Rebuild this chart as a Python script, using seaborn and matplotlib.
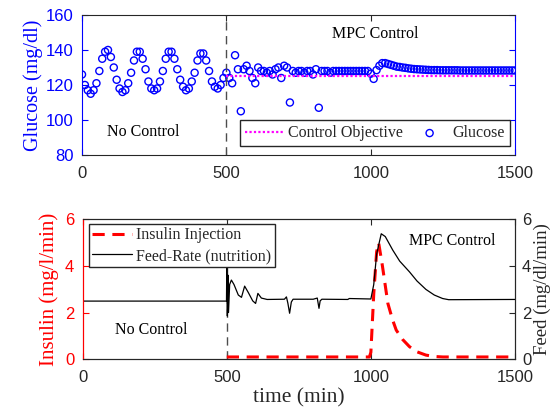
import numpy as np
import pandas as pd
import matplotlib
matplotlib.use('Agg')
import matplotlib.pyplot as plt
import seaborn as sns
from matplotlib.lines import Line2D

sns.set_style('ticks')
plt.rcParams['font.family'] = ['Liberation Sans', 'DejaVu Sans']

# glucose samples, every 10 min from 0 to 1500
time = np.arange(0, 1501, 10)
glucose_free = [126, 120, 117, 115, 117, 121, 128, 135, 139, 140,
                136, 130, 123, 118, 116, 117, 121, 127, 134, 139,
                139, 135, 129, 122, 118, 117, 118, 122, 128, 135,
                139, 139, 135, 129, 123, 119, 117, 118, 122, 127,
                134, 138, 138, 134, 128, 122, 119, 118, 120, 124]
glucose_mpc = [127, 124, 121, 137, 129, 105, 129, 131, 128, 124,
               121, 130, 128, 128, 127, 128, 126, 129, 130, 124,
               131, 130, 110, 128, 127, 128, 128, 127, 128, 128,
               126, 129, 107, 128, 128, 128, 127, 128, 128, 128,
               128, 128, 128, 128, 128, 128, 128, 128, 128, 128,
               126.5, 123.5, 128.5, 131, 132.5, 132.5, 132, 131.5, 131, 130.5,
               130.3, 130, 129.8, 129.5, 129.3, 129.1, 129, 128.9, 128.8, 128.7,
               128.6, 128.5, 128.5, 128.5, 128.4, 128.4, 128.4, 128.4, 128.4, 128.4,
               128.4, 128.3, 128.3, 128.3, 128.3, 128.3, 128.3, 128.3, 128.3, 128.3,
               128.3, 128.3, 128.3, 128.3, 128.3, 128.3, 128.3, 128.3, 128.3, 128.3,
               128.3]
glucose = glucose_free + glucose_mpc

target_t = [500, 1500]
target_v = [125, 125]

# insulin injection (mg/l/min)
ins_t = [500, 995, 1000, 1010, 1020, 1027, 1040, 1059, 1075, 1088, 1110,
         1134, 1160, 1191, 1220, 1250, 1500]
ins_v = [0.1, 0.1, 0.3, 2.8, 4.6, 4.98, 4.0, 2.39, 1.7, 1.25, 0.85,
         0.54, 0.32, 0.18, 0.12, 0.1, 0.1]

# feed rate (mg/dl/min)
feed_t = [0, 499, 500, 502, 504, 506, 510, 516, 525, 540, 551, 562, 575, 590,
          600, 608, 620, 640, 700, 707, 712, 718, 724, 730, 800, 814, 817, 820,
          824, 830, 920, 925, 1000, 1010, 1020, 1036, 1050, 1076, 1100, 1134,
          1160, 1191, 1220, 1249, 1270, 1500]
feed_v = [2.49, 2.49, 3.96, 1.85, 3.6, 2.0, 3.2, 3.39, 3.2, 2.75, 2.65, 3.13,
          2.85, 2.5, 2.39, 2.82, 2.62, 2.56, 2.57, 2.67, 2.4, 1.97, 2.45, 2.57,
          2.57, 2.62, 2.4, 2.18, 2.5, 2.57, 2.56, 2.6, 2.58, 3.2, 4.5, 5.37,
          5.25, 4.67, 4.2, 3.74, 3.35, 2.99, 2.75, 2.6, 2.55, 2.56]

serif = ['Liberation Serif', 'DejaVu Serif']
dark = '0.15'

fig = plt.figure(figsize=(5.56, 4.15), dpi=100)
ax = fig.add_axes([0.1475, 0.6265, 0.779, 0.3374])
ax1 = fig.add_axes([0.1487, 0.1342, 0.7775, 0.338])
ax2 = ax1.twinx()

# ---- top: glucose
gl = pd.DataFrame({'t': time, 'g': glucose})
ax.axvline(500, color='0.3', ls=(0, (6, 4)), lw=1)
sns.lineplot(x=target_t, y=target_v, ax=ax, color='#ff00ff', lw=1.6,
             ls=(0, (1, 1)), label='Control Objective')
sns.scatterplot(data=gl, x='t', y='g', ax=ax, marker='o', s=26,
                facecolor='none', edgecolor='blue', linewidth=1, label='Glucose')
ax.set_xlim(0, 1500)
ax.set_ylim(80, 160)
ax.set_xticks([0, 500, 1000, 1500])
ax.set_yticks([80, 100, 120, 140, 160])
ax.set_xlabel('')
ax.set_ylabel('Glucose (mg/dl)', color='blue', fontsize=14.5, family=serif, labelpad=2)
ax.tick_params(direction='in', length=4, labelsize=12, top=True, right=True)
ax.tick_params(axis='y', colors='blue', labelcolor='blue', pad=6)
ax.tick_params(axis='x', colors=dark, labelcolor=dark, pad=8)
for s in ['left', 'right']:
    ax.spines[s].set_color('blue')
for s in ['top', 'bottom']:
    ax.spines[s].set_color(dark)
ax.text(1015, 149, 'MPC Control', ha='center', va='center', fontsize=11.5, family=serif, color='k')
ax.text(213, 93, 'No Control', ha='center', va='center', fontsize=11.5, family=serif, color='k')
ax.legend(loc='lower right', bbox_to_anchor=(0.988, 0.064), ncol=2, fancybox=False,
          edgecolor=dark, framealpha=1, borderaxespad=0, handlelength=2.5,
          columnspacing=0.4, prop={'family': serif, 'size': 11.5},
          borderpad=0.3, handletextpad=0.2)

# ---- bottom: insulin and feed
ax1.axvline(500, color='0.3', ls=(0, (6, 4)), lw=1)
sns.lineplot(x=ins_t, y=ins_v, ax=ax1, color='red', lw=2.2, ls=(0, (4, 2.5)))
sns.lineplot(x=feed_t, y=feed_v, ax=ax2, color='k', lw=0.9)
ax1.set_xlim(0, 1500)
ax1.set_ylim(0, 6)
ax2.set_ylim(0, 6)
ax1.set_xticks([0, 500, 1000, 1500])
ax1.set_yticks([0, 2, 4, 6])
ax2.set_yticks([0, 2, 4, 6])
ax1.set_xlabel('time (min)', fontsize=15.5, family=serif, color=dark, labelpad=2)
ax1.set_ylabel('Insulin (mg/l/min)', color='red', fontsize=15, family=serif, labelpad=4)
ax2.set_ylabel('Feed (mg/dl/min)', color=dark, fontsize=13.5, family=serif, labelpad=2)
ax1.tick_params(direction='in', length=4, labelsize=12, top=True)
ax1.tick_params(axis='y', colors='red', labelcolor='red', pad=6)
ax1.tick_params(axis='x', colors=dark, labelcolor=dark, pad=8)
ax2.tick_params(direction='in', length=4, labelsize=12, colors=dark, pad=5)
ax2.spines['left'].set_color('red')
ax2.spines['right'].set_color(dark)
ax2.spines['top'].set_color(dark)
ax2.spines['bottom'].set_color(dark)
ax1.spines['left'].set_color('red')
ax2.text(238, 1.25, 'No Control', ha='center', va='center', fontsize=11.5, family=serif, color='k')
ax2.text(1283, 5.05, 'MPC Control', ha='center', va='center', fontsize=11.5, family=serif, color='k')
handles = [Line2D([], [], color='red', lw=2.2, ls=(0, (4, 2.5))),
           Line2D([], [], color='k', lw=0.9)]
ax2.legend(handles, ['Insulin Injection', 'Feed-Rate (nutrition)'], loc='upper left',
           bbox_to_anchor=(0.015, 0.965), fancybox=False, edgecolor=dark, framealpha=1,
           borderaxespad=0, handlelength=2.5, prop={'family': serif, 'size': 11.5},
           borderpad=0.2, labelspacing=0.3, handletextpad=0.25)

fig.savefig('out.png', dpi=100)
